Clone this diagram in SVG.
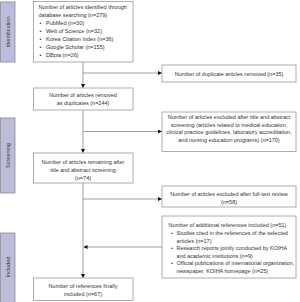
<svg xmlns="http://www.w3.org/2000/svg" width="300" height="302" viewBox="0 0 300 302">
<defs>
<marker id="ah" viewBox="0 0 6 6" refX="6" refY="3" markerWidth="4" markerHeight="4" orient="auto" markerUnits="userSpaceOnUse">
<path d="M0,0 L6,3 L0,6 z" fill="#111"/>
</marker>
</defs>
<style>
.bar{fill:#bdbdd9;stroke:#8a8a9a;stroke-width:0.8}
.box{fill:#fff;stroke:#999;stroke-width:0.8}
.t{font-family:"Liberation Sans",Arial,sans-serif;font-size:5.5px;fill:#333}
.c{text-anchor:middle}
.lbl{font-family:"Liberation Sans",Arial,sans-serif;font-size:5.5px;fill:#444;text-anchor:middle}
.ln{stroke:#888;stroke-width:0.8;fill:none}
.ar{marker-end:url(#ah)}
</style>
<rect width="300" height="302" fill="#fff"/>
<g id="stage-identification">
<rect class="bar" x="0.5" y="2" width="14.5" height="60"/>
<text class="lbl" transform="translate(9.5,32) rotate(-90)">Identification</text>
</g>
<g id="stage-screening">
<rect class="bar" x="0.5" y="118" width="14.5" height="75"/>
<text class="lbl" transform="translate(9.5,155.5) rotate(-90)">Screening</text>
</g>
<g id="stage-included">
<rect class="bar" x="0.5" y="233" width="14.5" height="70"/>
<text class="lbl" transform="translate(9.5,267) rotate(-90)">Included</text>
</g>
<g id="connectors">
<line class="ln ar" x1="83" y1="62" x2="83" y2="88"/>
<line class="ln ar" x1="83" y1="73" x2="162" y2="73"/>
<line class="ln ar" x1="83" y1="110" x2="83" y2="153"/>
<line class="ln ar" x1="83" y1="131.5" x2="162" y2="131.5"/>
<line class="ln ar" x1="83" y1="183" x2="83" y2="278"/>
<line class="ln ar" x1="83" y1="199" x2="162" y2="199"/>
<line class="ln ar" x1="162" y1="247" x2="83.5" y2="247"/>
</g>
<g id="n1">
<rect class="box" x="33.5" y="1.5" width="99.5" height="60.5"/>
<text class="t" x="38.5" y="9">Number of articles identified through</text>
<text class="t" x="38.5" y="17">database searching (n=279)</text>
<g class="t">
<text x="39.5" y="25">•</text><text x="46" y="25">PubMed (n=30)</text>
<text x="39.5" y="33">•</text><text x="46" y="33">Web of Science (n=32)</text>
<text x="39.5" y="41">•</text><text x="46" y="41">Korea Citation Index (n=36)</text>
<text x="39.5" y="49">•</text><text x="46" y="49">Google Scholar (n=155)</text>
<text x="39.5" y="57">•</text><text x="46" y="57">DBpia (n=26)</text>
</g>
</g>
<g id="n2">
<rect class="box" x="162" y="65" width="134" height="17"/>
<text class="t c" x="229" y="75.5">Number of duplicate articles removed (n=35)</text>
</g>
<g id="n3">
<rect class="box" x="33.5" y="88" width="99.5" height="22"/>
<text class="t c" x="83" y="96.5">Number of articles removed</text>
<text class="t c" x="83" y="105">as duplicates (n=244)</text>
</g>
<g id="n4">
<rect class="box" x="162" y="112" width="134" height="39.5"/>
<text class="t c" x="229" y="118.5">Number of articles excluded after title and abstract</text>
<text class="t c" x="229" y="126.5">screening (articles related to medical education,</text>
<text class="t c" x="229" y="134">clinical practice guidelines, laboratory accreditation,</text>
<text class="t c" x="229" y="141.5">and nursing education programs) (n=170)</text>
</g>
<g id="n5">
<rect class="box" x="33.5" y="153" width="99.5" height="30"/>
<text class="t c" x="83" y="164">Number of articles remaining after</text>
<text class="t c" x="83" y="172">title and abstract screening</text>
<text class="t c" x="83" y="179.5">(n=74)</text>
</g>
<g id="n6">
<rect class="box" x="162" y="186" width="134" height="21"/>
<text class="t c" x="229" y="195.5">Number of articles excluded after full-text review</text>
<text class="t c" x="229" y="204">(n=58)</text>
</g>
<g id="n7">
<rect class="box" x="162" y="216" width="134" height="62"/>
<text class="t" x="168.5" y="227">Number of additional references included (n=51)</text>
<g class="t">
<text x="171" y="235">•</text><text x="176.5" y="235">Studies cited in the references of the selected</text>
<text x="176.5" y="242.5">articles (n=17)</text>
<text x="171" y="250">•</text><text x="176.5" y="250">Research reports jointly conducted by KOIHA</text>
<text x="176.5" y="257.5">and academic institutions (n=9)</text>
<text x="171" y="265">•</text><text x="176.5" y="265">Official publications of international organization,</text>
<text x="176.5" y="272.5">newspaper, KOIHA homepage (n=25)</text>
</g>
</g>
<g id="n8">
<rect class="box" x="33.5" y="278" width="99.5" height="22.5"/>
<text class="t c" x="83" y="288">Number of references finally</text>
<text class="t c" x="83" y="296">included (n=67)</text>
</g>
</svg>
